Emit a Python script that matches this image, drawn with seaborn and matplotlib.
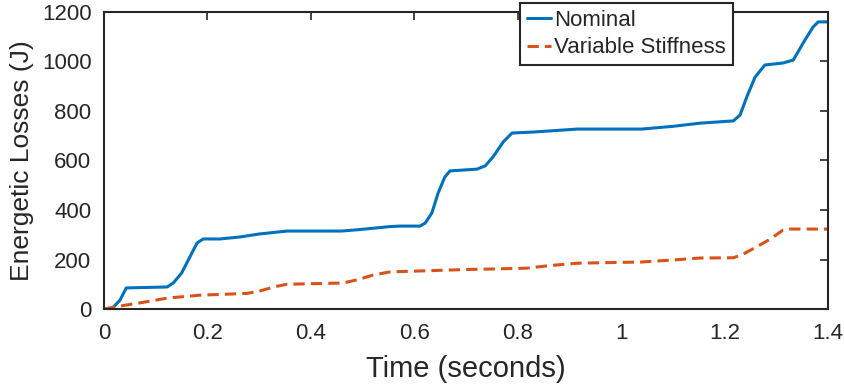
import numpy as np
import pandas as pd
import matplotlib
matplotlib.use("Agg")
import matplotlib.pyplot as plt
import seaborn as sns

# Data
t_nominal = [0.0, 0.004, 0.017, 0.031, 0.043, 0.08, 0.122, 0.134, 0.150, 0.166, 0.180, 0.192,
             0.224, 0.263, 0.300, 0.354, 0.460, 0.500, 0.553, 0.572, 0.611, 0.621, 0.634,
             0.646, 0.659, 0.669, 0.721, 0.737, 0.752, 0.772, 0.789, 0.830, 0.915, 1.040,
             1.100, 1.153, 1.217, 1.230, 1.243, 1.259, 1.278, 1.313, 1.333, 1.352, 1.371,
             1.381, 1.400]
e_nominal = [0, 0, 5, 36, 85, 87, 89, 105, 145, 210, 267, 283,
             283, 291, 303, 315, 315, 322, 333, 335, 335, 347, 388,
             468, 533, 558, 565, 578, 614, 675, 711, 715, 727, 727,
             738, 751, 760, 784, 857, 937, 986, 994, 1006, 1075, 1139,
             1160, 1160]

t_variable = [0.0, 0.031, 0.070, 0.122, 0.186, 0.240, 0.276, 0.300, 0.330, 0.354, 0.462,
              0.490, 0.520, 0.553, 0.708, 0.760, 0.818, 0.860, 0.915, 1.040, 1.100, 1.153,
              1.217, 1.236, 1.262, 1.288, 1.313, 1.327, 1.400]
e_variable = [0, 12, 25, 44, 56, 60, 63, 72, 90, 100, 105,
              118, 137, 150, 160, 162, 165, 175, 185, 190, 198, 206,
              207, 222, 251, 282, 319, 323, 323]

series_names = ["Nominal", "Variable Stiffness"]
x_ticks = [0, 0.2, 0.4, 0.6, 0.8, 1, 1.2, 1.4]
x_tick_labels = ["0", "0.2", "0.4", "0.6", "0.8", "1", "1.2", "1.4"]
y_ticks = [0, 200, 400, 600, 800, 1000, 1200]

df = pd.concat([
    pd.DataFrame({"t": t_nominal, "E": e_nominal, "series": series_names[0]}),
    pd.DataFrame({"t": t_variable, "E": e_variable, "series": series_names[1]}),
])

sns.set_theme(style="white")
plt.rcParams["font.family"] = ["Liberation Sans", "DejaVu Sans"]

fig = plt.figure(figsize=(8.45, 3.88), dpi=100)
ax = fig.add_axes([104 / 845, 1 - 309 / 388, 724 / 845, 297 / 388])

sns.lineplot(data=df, x="t", y="E", hue="series", style="series",
             palette={"Nominal": "#0072BD", "Variable Stiffness": "#D95319"},
             dashes={"Nominal": "", "Variable Stiffness": (3.7, 2.0)},
             linewidth=2.2, ax=ax, legend=True, estimator=None, sort=False)
for ln in ax.get_lines():
    ln.set_solid_joinstyle("round")
    ln.set_dash_joinstyle("round")

ax.set_xlim(0, 1.4)
ax.set_ylim(0, 1200)
ax.set_xticks(x_ticks)
ax.set_xticklabels(x_tick_labels)
ax.set_yticks(y_ticks)
ax.tick_params(direction="in", length=6, width=1.2, top=True, right=True,
               labelsize=16, colors="#262626")
ax.tick_params(axis="x", pad=10)
ax.tick_params(axis="y", pad=9)
for s in ax.spines.values():
    s.set_visible(True)
    s.set_color("#262626")
    s.set_linewidth(1.5)
ax.set_xlabel("Time (seconds)", fontsize=21, color="#262626", labelpad=8)
ax.set_ylabel("Energetic Losses (J)", fontsize=19, color="#262626", labelpad=6)
ax.grid(False)

handles, labels = ax.get_legend_handles_labels()
leg = ax.legend(handles, labels, loc="upper left", bbox_to_anchor=(0.5746, 1.030),
                fontsize=16, frameon=True, fancybox=False, edgecolor="#262626",
                handlelength=1.1, handletextpad=0.15, borderpad=0.3, labelspacing=0.3,
                borderaxespad=0)
leg.get_frame().set_linewidth(1.5)
leg.get_frame().set_facecolor("white")
leg.get_frame().set_alpha(1)

fig.savefig("out.png", dpi=100)
